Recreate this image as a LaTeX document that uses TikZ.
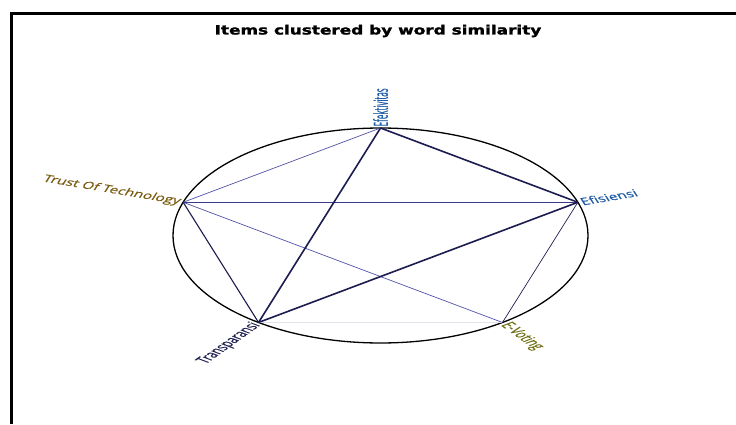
\documentclass[tikz,border=0pt]{standalone}
\usepackage{fontspec}
\newfontfamily\lblfont[FakeBold=0.5]{Open Sans}
\newfontfamily\ttlfont[BoldFeatures={FakeBold=1.6}]{DejaVu Sans}
\definecolor{cblue}{HTML}{1F5CA8}
\definecolor{cgold}{HTML}{7A5C10}
\definecolor{cnavy}{HTML}{202050}
\definecolor{colive}{HTML}{6E6E14}
\definecolor{ethin}{HTML}{5252A8}
\definecolor{emid}{HTML}{3A3A8C}
\definecolor{edark}{HTML}{1C1C50}
\definecolor{efaint}{HTML}{E2E2EA}
\newcommand{\lbltext}[1]{\scalebox{1}[1.25]{#1}}
\begin{document}
\begin{tikzpicture}[x=1pt,y=1pt,
  lbl/.style={font=\lblfont\fontsize{15.5}{18}\selectfont, inner sep=3pt},
  edgethin/.style={draw=ethin, line width=0.7pt},
  edgemid/.style={draw=emid, line width=1.0pt},
  edgethick/.style={draw=edark, line width=1.6pt},
  edgedark/.style={draw=edark, line width=1.1pt},
  edgelight/.style={draw=cnavy, line width=0.7pt},
  edgefaint/.style={draw=efaint, line width=0.8pt}]
\useasboundingbox (0,0) rectangle (736,424);
\fill[white] (0,0) rectangle (736,424);
\draw[line width=3pt, black] (11.5,0) -- (11.5,410.5) -- (736,410.5);
\node (title) at (378,393) {\scalebox{1.33}[1]{\ttlfont\bfseries\fontsize{12.7}{15}\selectfont Items clustered by word similarity}};
\begin{scope}[shift={(380.5,188.5)}, yscale=0.518, transform shape]
  \draw[line width=1.3pt, black] (0,0) circle[radius=207.5];
  \coordinate (ef) at (90:207.5);
  \coordinate (tr) at (162:207.5);
  \coordinate (es) at (18:207.5);
  \coordinate (tp) at (234:207.5);
  \coordinate (ev) at (306:207.5);
  \draw[edgefaint] (tp) -- (ev);
  \draw[edgethin] (ef) -- (tr);
  \draw[edgethin] (tr) -- (ev);
  \draw[edgemid] (tr) -- (es);
  \draw[edgedark] (tr) -- (tp);
  \draw[edgelight] (es) -- (ev);
  \draw[edgethick] (ef) -- (es);
  \draw[edgethick] (ef) -- (tp);
  \draw[edgethick] (es) -- (tp);
  \node[lbl, text=cblue, anchor=west, rotate=90] (lef) at (ef) {\lbltext{Efektivitas}};
  \node[lbl, text=cgold, anchor=east, rotate=-18] (ltr) at (tr) {\lbltext{Trust Of Technology}};
  \node[lbl, text=cblue, anchor=west, rotate=18] (les) at (es) {\lbltext{Efisiensi}};
  \node[lbl, text=cnavy, anchor=east, rotate=54] (ltp) at (tp) {\lbltext{Transparansi}};
  \node[lbl, text=colive, anchor=west, rotate=-54] (lev) at (ev) {\lbltext{E-Voting}};
\end{scope}
\end{tikzpicture}
\end{document}
